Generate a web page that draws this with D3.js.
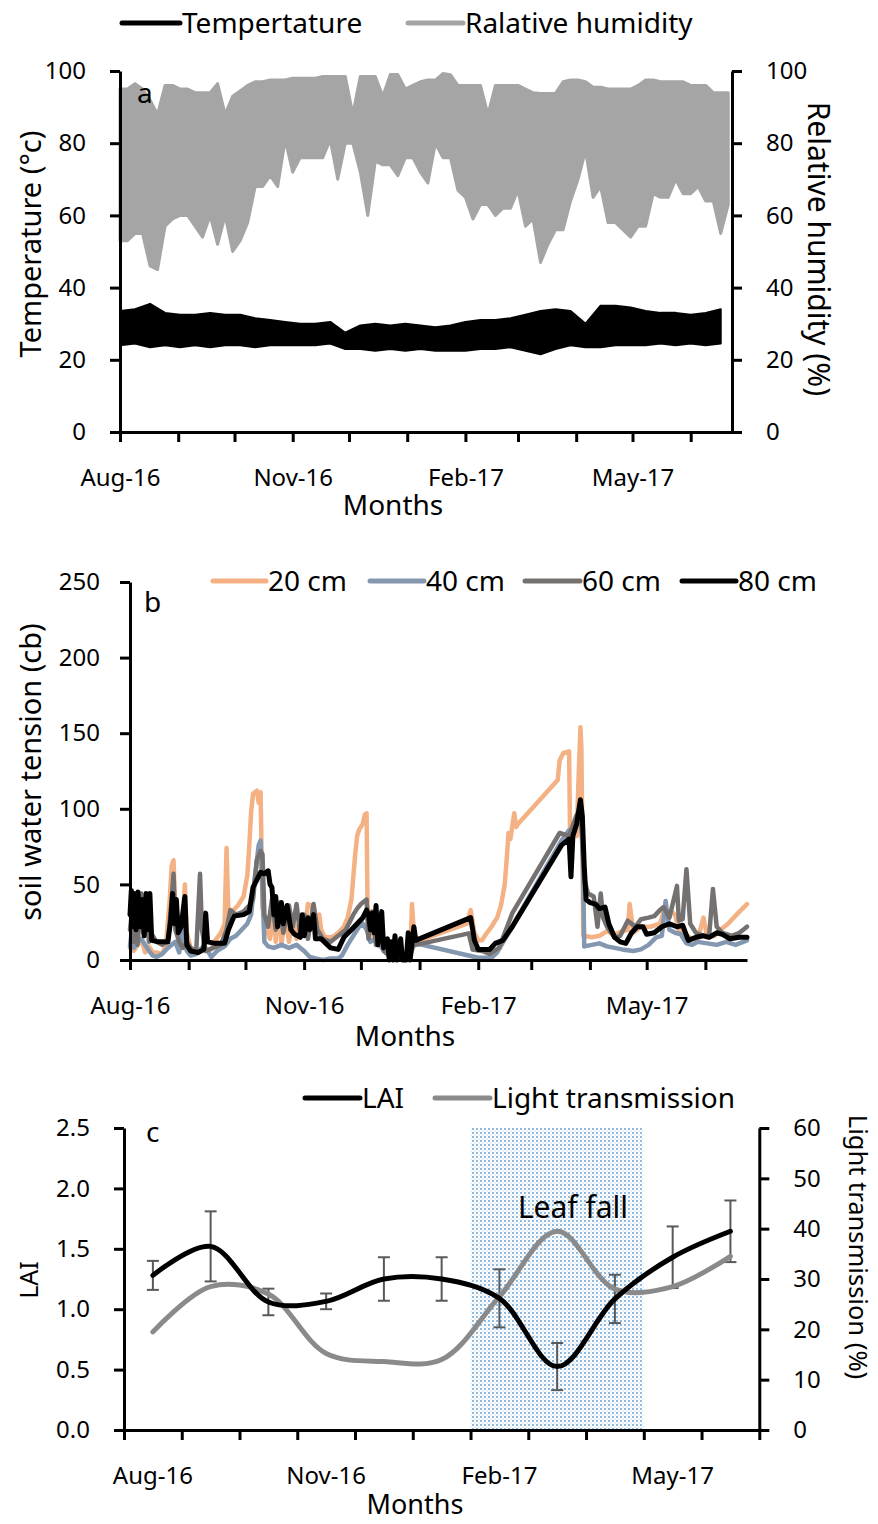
<!DOCTYPE html>
<html>
<head>
<meta charset="utf-8">
<script src="https://cdn.jsdelivr.net/npm/d3@7"></script>
<style>
  body { margin: 0; background: #fff; }
  text { font-family: "Noto Sans", sans-serif; }
</style>
</head>
<body>
<svg id="chart" width="878" height="1524"></svg>
<script>
// ---- data ----
const startDay = Date.UTC(2016, 7, 1);
const lastDay = 326;

// panel a: envelopes of RH every 4 days, temperature every 8 days
const rhStep = 4;
const rhHigh = [95,95,96.5,95,92,88,96,96,95,95, 94,94,94,96.5,88,93,94.5,96,97,97,
  97.5,97.5,97.5,98,98,98,98,98.5,98.5,98.5, 98.5,88,98.5,98.5,98.5,93,99,99,95,96,
  97,97.5,97.5,99.3,99,96,96,96,96,88, 96,96,96,96,95,94,93.8,93.8,93.8,97,
  97.5,97.5,97,95.5,95.5,95,95,95,95,96, 97.5,97.5,97,97,97,97,96,96,96,94, 94,94];
const rhLow = [53,53,55,55,46,45,57,59,60,60, 57,54,60,52,60,50,53,58,68,68,
  71,68,81,72,76,76,76,76,81,70, 80,80,72,60,75,74,74,71,76,76,
  72,69,80,76,76,67,65,59,63,63, 60,62,62,67,57,59,47,52,56,56,
  64,70,78,65,68,58,58,56,54,57, 57,66,65,65,70,66,66,68,64,64, 55,63];
const tempStep = 8;
const tempHigh = [33.5,34,35.5,33,32.5,32.5,33,32.5,32.5,31.5, 31,30.5,30,30,30.5,27.5,29.5,30,29.5,30,
  29.5,29,29.5,30.5,31,31,31.5,32.5,33.5,34, 33.5,30,35,35,34.5,33.5,33,33,32.5,33, 34];
const tempLow = [24,24.5,23.5,24,23.5,24,23.5,24,24,23.5, 24,24,24,24,24.5,23,23,22.5,23,22.5,
  23,22.5,22.5,22.5,23,23,23.5,22.5,21.5,23, 24,23.5,23.5,24,24,24,24.5,24,24.5,24, 24.5];

// panel b: [day since 1 Aug 2016, cb]
const soil20 = [[0,8],[1,14],[2,6],[4,10],[6,14],[8,5],[10,9],[12,5],[14,5],[17,4],[19,10],[21,40],[22,62],[23,66],[24,30],[26,10],[28,30],[29,50],[30,18],[32,8],[36,6],[40,6],[43,7],[45,13],[48,18],[50,24],[51,74],[52,30],[54,32],[57,36],[60,42],[62,56],[63,75],[64,98],[65,110],[67,112],[68,104],[69,111],[70,35],[72,20],[74,14],[76,32],[77,12],[79,36],[80,10],[82,30],[84,12],[86,29],[88,14],[90,28],[92,16],[94,37],[96,36],[98,24],[100,30],[101,20],[103,15],[106,15],[108,16],[110,18],[113,22],[115,28],[117,40],[118,55],[119,70],[120,82],[121,86],[123,90],[124,96],[125,97],[125.5,35],[127,28],[129,14],[130,30],[131,12],[133,25],[134,10],[136,8],[137,2],[140,1],[143,2],[146,1],[148,0],[149,37],[150,18],[151,12],[178,24],[180,33],[182,18],[184,13],[186,13],[188,17],[191,22],[194,28],[196,36],[198,50],[199,66],[200,84],[201,80],[203,97],[204,88],[205,90],[226,119],[227,132],[229,137],[232,138],[232.5,85],[236,82],[237,120],[238,154],[238.5,140],[239.5,16],[244,15],[248,16],[252,19],[256,17],[260,19],[263,20],[264,37],[266,18],[270,22],[275,22],[280,24],[282,32],[286,32],[288,30],[290,20],[293,17],[297,14],[300,14],[303,28],[305,15],[309,16],[312,20],[316,24],[319,28],[322,32],[326,37]];
const soil40 = [[0,9],[1,20],[2,8],[4,12],[6,14],[8,10],[10,6],[12,3],[14,2],[17,4],[20,8],[22,10],[24,12],[26,5],[28,22],[30,6],[32,3],[35,4],[38,8],[41,6],[43,2],[46,6],[50,9],[53,14],[56,16],[59,20],[62,24],[64,30],[66,55],[68,76],[69,79],[70,44],[71,12],[73,9],[76,8],[80,10],[84,8],[88,10],[92,6],[95,2],[98,1],[102,0],[106,1],[110,1],[112,3],[115,10],[118,16],[121,22],[123,24],[125,20],[127,12],[130,14],[133,8],[136,4],[140,0],[144,1],[148,3],[150,10],[151,11],[184,1.5],[191,1.5],[194,5],[228,79],[232,86],[234,86],[236,90],[238,97],[239,95],[240,9],[244,10],[248,11],[252,9],[256,8],[260,7],[266,6],[270,7],[274,10],[278,15],[281,16],[283,39],[285,20],[288,18],[291,17],[294,11],[297,10],[300,12],[305,11],[310,10],[315,12],[320,10],[326,13]];
const soil60 = [[0,20],[1,31],[2,12],[3,30],[4,10],[6,44],[7,18],[9,30],[10,12],[12,16],[14,12],[17,10],[20,12],[22,40],[23,57],[24,20],[26,12],[28,8],[30,12],[32,8],[35,6],[37,57],[38,20],[40,6],[44,8],[48,10],[51,20],[53,33],[56,30],[60,32],[63,36],[65,40],[67,66],[69,72],[70,70],[71,30],[73,22],[75,40],[77,20],[79,38],[81,18],[84,36],[86,22],[88,37],[90,16],[92,30],[94,14],[97,37],[99,20],[102,14],[106,12],[110,16],[114,20],[118,30],[120,34],[122,37],[124,39],[125,40],[126,14],[128,32],[130,10],[132,30],[134,6],[137,3],[140,2],[144,1],[147,2],[150,11],[151,10],[179,17.6],[181,7],[186,6],[190,4],[195,8],[202,31],[227,84],[232,82],[236,96],[238,99],[240,53],[242,44],[245,42],[247,22],[248.7,44],[250,28],[252,22],[256,15],[259,16],[263,26],[267,22],[270,27],[274,28],[277,29],[280,33],[282,35],[285,28],[289,49],[290,26],[292,27],[294,60],[296,24],[299,18],[303,16],[306,16],[308,47],[310,22],[313,18],[318,16],[322,18],[326,22]];
const soil80 = [[0,30],[0.7,46],[1.5,22],[2.3,44],[3.2,20],[4.2,45],[5.2,22],[6.5,40],[7.5,16],[8.5,44],[9.5,20],[10.5,44],[11.5,13],[15,12],[20,12],[21.5,26],[22.5,44],[23.5,24],[24.5,40],[25.5,18],[27,22],[29,42],[30,10],[32,6],[36,5],[39,7],[40,31],[41,12],[45,11],[50,11],[52,20],[55,29],[60,30],[63,32],[65,48],[67,53],[69,58],[71,57],[73,59],[74,50],[75,48],[76,30],[77,42],[78,22],[80,38],[81,24],[83,36],[85,20],[87,17],[90,15],[91,30],[92,16],[94,28],[95,20],[97,30],[98,14],[101,14],[106,8],[110,7],[113,15],[117,20],[120,24],[123,28],[125,33],[126,30],[127,20],[128,31],[129,18],[130,36],[131,10],[133,32],[134,8],[136,14],[137,0],[138,12],[139,0],[140,16],[141,0],[143,14],[144,0],[146,0],[147,18],[148,0],[150,22],[151,13],[180,28],[182,13],[184,7],[190,7],[193,11],[197,13],[202,22],[228,76],[232,80],[233,55],[234,82],[236,90],[238,106],[239,95],[240,62],[241,40],[243,38],[246,37],[248,34],[251,35],[253,24],[256,15],[259,12],[262,11],[265,18],[268,22],[271,22],[273,17],[277,18],[281,22],[285,24],[289,22],[292,23],[295,13],[299,15],[303,16],[306,15],[310,18],[313,17],[317,14],[322,15],[326,15]];
const depthNames = ["20 cm", "40 cm", "60 cm", "80 cm"];
const depthColors = ["#f4b183", "#8497b0", "#767171", "#000000"];

// panel c
const months = ["Aug-16","Sep-16","Oct-16","Nov-16","Dec-16","Jan-17","Feb-17","Mar-17","Apr-17","May-17","Jun-17"];
const lai = [1.28,1.52,1.06,1.065,1.25,1.25,1.09,0.525,1.085,1.43,1.645];
const laiErr = [0.12,0.29,0.11,0.065,0.18,0.18,0.24,0.195,0.2,0.255,0.255];
const lightTrans = [19.5,28.5,27,15.2,13.6,14,26.5,39.5,28,28.5,34.5];
const leafFall = ["Feb-17", "Apr-17"];

// ---- helpers ----
const font = '"Noto Sans", sans-serif';
const svg = d3.select("#chart");
const toDate = d => new Date(startDay + d * 864e5);
const shownMonth = d => [7, 10, 1, 4].includes(d.getUTCMonth());
const fmtMonth = d3.utcFormat("%b-%y");

function styleAxis(g, size) {
   g.attr("font-family", font).attr("font-size", size || 24);
   g.select(".domain").attr("stroke", "#000").attr("stroke-width", 3);
   g.selectAll(".tick line").attr("stroke", "#000").attr("stroke-width", 3);
   g.selectAll(".tick text").attr("fill", "#000");
}

function legendItem(x1, x2, y, color, label) {
   svg.append("line").attr("x1", x1).attr("x2", x2).attr("y1", y).attr("y2", y)
      .attr("stroke", color).attr("stroke-width", 5).attr("stroke-linecap", "round");
   svg.append("text").attr("x", x2 + 2).attr("y", y).attr("dy", "0.35em")
      .attr("font-size", 28).text(label);
}

function rotText(x, y, angle, size, label) {
   svg.append("text").attr("transform", `translate(${x},${y}) rotate(${angle})`)
      .attr("text-anchor", "middle").attr("font-size", size).text(label);
}

// ================= panel a =================
const xA = d3.scaleUtc().domain([toDate(0), toDate(lastDay)]).range([120, 732]);
const yA = d3.scaleLinear().domain([0, 100]).range([432, 71]);

const rhArea = d3.area()
   .x((d, i) => xA(toDate(i * rhStep)))
   .y0(d => yA(d[0])).y1(d => yA(d[1]));
svg.append("path").datum(d3.zip(rhLow, rhHigh)).attr("d", rhArea)
   .attr("fill", "#a5a5a5").attr("stroke", "#a5a5a5").attr("stroke-width", 3)
   .attr("stroke-linejoin", "round");

const tArea = d3.area()
   .x((d, i) => xA(toDate(i * tempStep)))
   .y0(d => yA(d[0])).y1(d => yA(d[1]));
svg.append("path").datum(d3.zip(tempLow, tempHigh)).attr("d", tArea)
   .attr("fill", "#000").attr("stroke", "#000").attr("stroke-width", 2)
   .attr("stroke-linejoin", "round");

svg.append("g").attr("transform", "translate(0,432)")
   .call(d3.axisBottom(xA).ticks(d3.utcMonth.every(1)).tickSize(10).tickSizeOuter(0).tickPadding(27)
      .tickFormat(d => shownMonth(d) ? fmtMonth(d) : ""))
   .call(g => styleAxis(g));
svg.append("g").attr("transform", "translate(120,0)")
   .call(d3.axisLeft(yA).tickValues(d3.range(0, 101, 20)).tickSize(10).tickSizeOuter(0).tickPadding(24))
   .call(g => styleAxis(g));
svg.append("g").attr("transform", "translate(732,0)")
   .call(d3.axisRight(yA).tickValues(d3.range(0, 101, 20)).tickSize(10).tickSizeOuter(0).tickPadding(24))
   .call(g => styleAxis(g));

svg.append("text").attr("x", 137).attr("y", 103).attr("font-size", 28).text("a");
rotText(41, 244, -90, 29, "Temperature (°c)");
rotText(808, 249, 90, 30, "Relative humidity (%)");
svg.append("text").attr("x", 393).attr("y", 515).attr("text-anchor", "middle").attr("font-size", 28).text("Months");
legendItem(122, 180, 23, "#000", "Tempertature");
legendItem(408, 463, 23, "#a5a5a5", "Ralative humidity");

// ================= panel b =================
const xB = d3.scaleUtc().domain([toDate(0), toDate(lastDay)]).range([130, 747]);
const yB = d3.scaleLinear().domain([0, 250]).range([960, 582]);
const soilLine = d3.line().x(d => xB(toDate(d[0]))).y(d => yB(d[1]));

[soil20, soil40, soil60, soil80].forEach((s, i) => {
   svg.append("path").datum(s).attr("d", soilLine)
      .attr("fill", "none").attr("stroke", depthColors[i])
      .attr("stroke-width", i === 3 ? 5 : 4.5)
      .attr("stroke-linejoin", "round").attr("stroke-linecap", "round");
});

svg.append("g").attr("transform", "translate(0,960)")
   .call(d3.axisBottom(xB).ticks(d3.utcMonth.every(1)).tickSize(10).tickSizeOuter(0).tickPadding(27)
      .tickFormat(d => shownMonth(d) ? fmtMonth(d) : ""))
   .call(g => styleAxis(g));
svg.append("g").attr("transform", "translate(130,0)")
   .call(d3.axisLeft(yB).tickValues(d3.range(0, 251, 50)).tickSize(10).tickSizeOuter(0).tickPadding(20))
   .call(g => styleAxis(g));

svg.append("text").attr("x", 144).attr("y", 612).attr("font-size", 28).text("b");
rotText(41, 772, -90, 29, "soil water tension (cb)");
svg.append("text").attr("x", 405).attr("y", 1046).attr("text-anchor", "middle").attr("font-size", 28).text("Months");
const legB = [[213, 266], [370, 424], [525, 580], [682, 736]];
depthNames.forEach((n, i) => legendItem(legB[i][0], legB[i][1], 581, depthColors[i], n));

// ================= panel c =================
const xC = d3.scaleBand().domain(months).range([124, 759.3]);
const xIdx = d3.scaleLinear().domain([0, months.length]).range([124, 759.3]);
const yC = d3.scaleLinear().domain([0, 2.5]).range([1430, 1128]);
const yC2 = d3.scaleLinear().domain([0, 60]).range([1430, 1128]);
const cx = m => xC(m) + xC.bandwidth() / 2;

const defs = svg.append("defs");
const pat = defs.append("pattern").attr("id", "dots").attr("patternUnits", "userSpaceOnUse")
   .attr("width", 4).attr("height", 4);
pat.append("rect").attr("width", 4).attr("height", 4).attr("fill", "#fff");
pat.append("circle").attr("cx", 1).attr("cy", 1).attr("r", 0.9).attr("fill", "#5b9bd5");
pat.append("circle").attr("cx", 3).attr("cy", 3).attr("r", 0.6).attr("fill", "#9dc3e6");

svg.append("rect")
   .attr("x", xC(leafFall[0])).attr("y", yC(2.5))
   .attr("width", xC(leafFall[1]) + xC.bandwidth() - xC(leafFall[0]))
   .attr("height", yC(0) - yC(2.5))
   .attr("fill", "url(#dots)");
svg.append("text").attr("x", 573).attr("y", 1218).attr("text-anchor", "middle")
   .attr("font-size", 30).text("Leaf fall");

// error bars on LAI
const eb = svg.append("g").attr("stroke", "#595959").attr("stroke-width", 2);
months.forEach((m, i) => {
   const x = cx(m), y1 = yC(lai[i] - laiErr[i]), y2 = yC(lai[i] + laiErr[i]);
   eb.append("line").attr("x1", x).attr("x2", x).attr("y1", y1).attr("y2", y2);
   eb.append("line").attr("x1", x - 6).attr("x2", x + 6).attr("y1", y1).attr("y2", y1);
   eb.append("line").attr("x1", x - 6).attr("x2", x + 6).attr("y1", y2).attr("y2", y2);
});

const smooth = d3.curveCatmullRom.alpha(0.5);
svg.append("path").datum(lightTrans)
   .attr("d", d3.line().x((d, i) => cx(months[i])).y(d => yC2(d)).curve(smooth))
   .attr("fill", "none").attr("stroke", "#8a8a8a").attr("stroke-width", 5).attr("stroke-linecap", "round");
svg.append("path").datum(lai)
   .attr("d", d3.line().x((d, i) => cx(months[i])).y(d => yC(d)).curve(smooth))
   .attr("fill", "none").attr("stroke", "#000").attr("stroke-width", 5).attr("stroke-linecap", "round");

svg.append("g").attr("transform", "translate(0,1430)")
   .call(d3.axisBottom(xIdx).tickValues(d3.range(0, months.length + 1)).tickSize(10).tickSizeOuter(0).tickFormat(""))
   .call(g => styleAxis(g));
svg.append("g").attr("transform", "translate(0,1430)")
   .call(d3.axisBottom(xC).tickSize(0).tickPadding(37).tickFormat((d, i) => i % 3 === 0 ? d : ""))
   .call(g => { styleAxis(g); g.select(".domain").remove(); });
svg.append("g").attr("transform", "translate(124,0)")
   .call(d3.axisLeft(yC).tickValues(d3.range(0, 2.51, 0.5)).tickFormat(d3.format(".1f")).tickSize(10).tickSizeOuter(0).tickPadding(24))
   .call(g => styleAxis(g));
svg.append("g").attr("transform", "translate(759.3,0)")
   .call(d3.axisRight(yC2).tickValues(d3.range(0, 61, 10)).tickSize(10).tickSizeOuter(0).tickPadding(24))
   .call(g => styleAxis(g));

svg.append("text").attr("x", 146).attr("y", 1142).attr("font-size", 28).text("c");
rotText(38, 1280, -90, 25, "LAI");
rotText(849, 1247, 90, 25.5, "Light transmission (%)");
svg.append("text").attr("x", 415).attr("y", 1514).attr("text-anchor", "middle").attr("font-size", 27).text("Months");
legendItem(305, 360, 1098, "#000", "LAI");
legendItem(435, 490, 1098, "#8a8a8a", "Light transmission");
</script>
</body>
</html>
